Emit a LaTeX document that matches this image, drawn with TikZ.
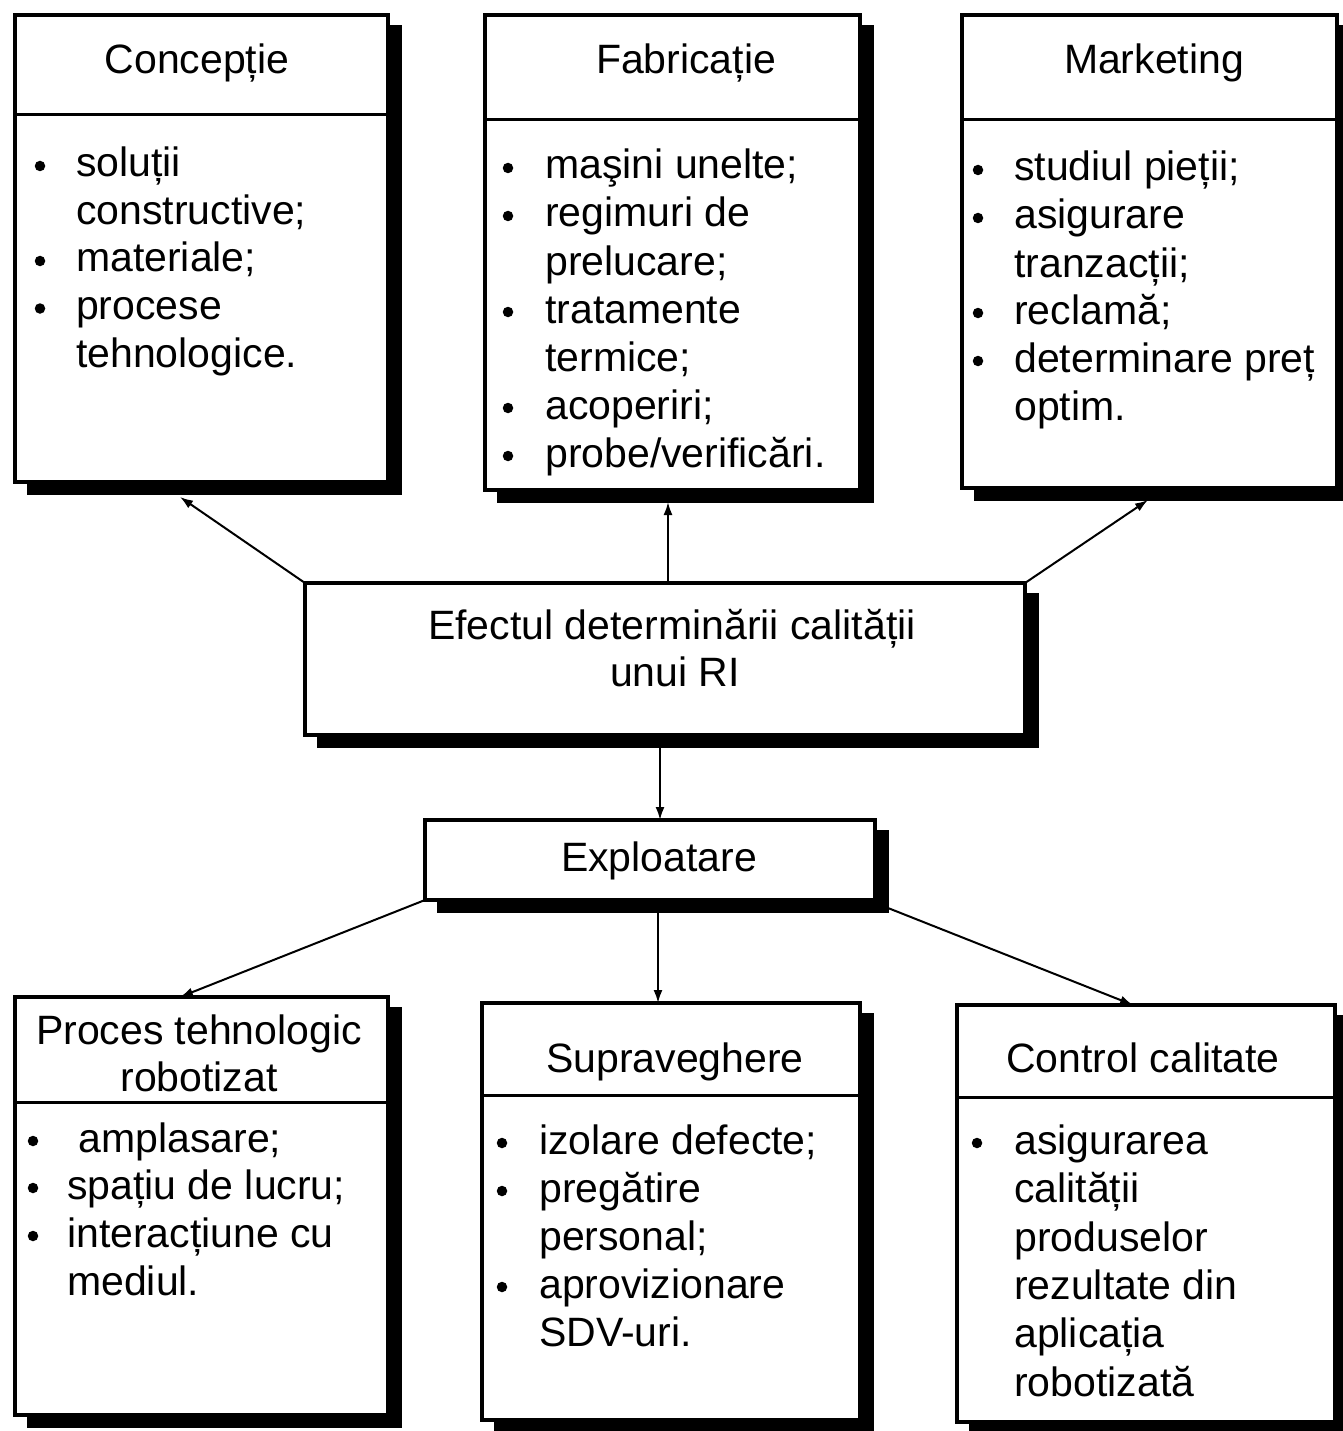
\documentclass[tikz,border=0pt]{standalone}
\usepackage{fontspec}
\setmainfont{Liberation Sans}
\usetikzlibrary{arrows.meta,calc}

\tikzset{
  boxframe/.style={draw, line width=3.2pt, fill=white, rectangle,
    inner sep=0pt, outer sep=0pt, anchor=north west},
  rulew/.style={line width=3pt},
  shade/.style={fill=black},
  conn/.style={line width=2pt, -{Latex[length=13pt,width=9pt]}},
  ln/.style={anchor=base west, inner sep=0pt},
  hd/.style={anchor=base, inner sep=0pt},
  dot/.style={circle, fill=black, inner sep=0pt, minimum size=10.5pt},
}

% shadowed frame: name, x1, y1, x2, y2, divider y (negative = none)
\newcommand\rpanel[6]{%
  \fill[shade] (#2+12,#3+10) rectangle (#4+14,#5+13);
  \node[boxframe, minimum width={#4pt-#2pt}, minimum height={#5pt-#3pt}] (#1) at (#2,#3) {};
  \ifdim #6pt>0pt \draw[rulew] (#2,#6) -- (#4,#6);\fi
}

\begin{document}
\begin{tikzpicture}[x=1pt, y=-1pt,
  every node/.append style={font=\fontsize{41pt}{48pt}\selectfont}]
\fill[white] (0,0) rectangle (1342,1431);
\useasboundingbox (0,0) rectangle (1342,1431);

% ---------- top row ----------
\rpanel{conc}{15}{15}{388}{482}{115}
\node[hd] (concT) at (197,74) {Concepție};
\node[dot] (cb1) at (40,166) {};
\node[ln] (c1) at (76,177) {soluții};
\node[ln] (c2) at (76,224.5) {constructive;};
\node[dot] (cb2) at (40,261) {};
\node[ln] (c3) at (76,272) {materiale;};
\node[dot] (cb3) at (40,308.5) {};
\node[ln] (c4) at (76,319.5) {procese};
\node[ln] (c5) at (76,367) {tehnologice.};

\rpanel{fab}{485}{15}{860}{490}{120}
\node[hd] (fabT) at (686,74) {Fabricație};
\node[dot] (fb1) at (508,168) {};
\node[ln] (f1) at (545,179) {maşini unelte;};
\node[dot] (fb2) at (508,216) {};
\node[ln] (f2) at (545,227) {regimuri de};
\node[ln] (f3) at (545,275) {prelucare;};
\node[dot] (fb3) at (508,312) {};
\node[ln] (f4) at (545,323) {tratamente};
\node[ln] (f5) at (545,371) {termice;};
\node[dot] (fb4) at (508,408) {};
\node[ln] (f6) at (545,419) {acoperiri;};
\node[dot] (fb5) at (508,456) {};
\node[ln] (f7) at (545,467) {probe/verificări.};

\rpanel{mkt}{962}{15}{1337}{488}{120}
\node[hd] (mktT) at (1154,74) {Marketing};
\node[dot] (mb1) at (978,170) {};
\node[ln] (m1) at (1014,181) {studiul pieții;};
\node[dot] (mb2) at (978,218) {};
\node[ln] (m2) at (1014,229) {asigurare};
\node[ln] (m3) at (1014,277) {tranzacții;};
\node[dot] (mb3) at (978,313) {};
\node[ln] (m4) at (1014,324) {reclamă;};
\node[dot] (mb4) at (978,361) {};
\node[ln] (m5) at (1014,372) {determinare preț};
\node[ln] (m6) at (1014,420) {optim.};

% ---------- centre ----------
\rpanel{eff}{305}{583}{1025}{735}{-1}
\node[hd] (effA) at (672,639) {Efectul determinării calității};
\node[hd] (effB) at (675,686) {unui RI};

\rpanel{expl}{425}{820}{875}{900}{-1}
\node[hd] (explT) at (659,871) {Exploatare};

% ---------- bottom row ----------
\rpanel{proc}{15}{997}{388}{1415}{1102}
\node[hd] (procA) at (199,1044) {Proces tehnologic};
\node[hd] (procB) at (199,1091) {robotizat};
\node[dot] (pb1) at (33,1141) {};
\node[ln] (p1) at (67,1152) {\ amplasare;};
\node[dot] (pb2) at (33,1188) {};
\node[ln] (p2) at (67,1199) {spațiu de lucru;};
\node[dot] (pb3) at (33,1236) {};
\node[ln] (p3) at (67,1247) {interacțiune cu};
\node[ln] (p4) at (67,1295) {mediul.};

\rpanel{sup}{482}{1003}{860}{1420}{1095}
\node[hd] (supT) at (675,1072) {Supraveghere};
\node[dot] (sb1) at (502,1143) {};
\node[ln] (s1) at (539,1154) {izolare defecte;};
\node[dot] (sb2) at (502,1191) {};
\node[ln] (s2) at (539,1202) {pregătire};
\node[ln] (s3) at (539,1250) {personal;};
\node[dot] (sb3) at (502,1287) {};
\node[ln] (s4) at (539,1298) {aprovizionare};
\node[ln] (s5) at (539,1346) {SDV-uri.};

\rpanel{ctrl}{957}{1005}{1335}{1422}{1097}
\node[hd] (ctrlT) at (1143,1072) {Control calitate};
\node[dot] (qb1) at (977,1143) {};
\node[ln] (q1) at (1014,1154) {asigurarea};
\node[ln] (q2) at (1014,1202) {calității};
\node[ln] (q3) at (1014,1251) {produselor};
\node[ln] (q4) at (1014,1299) {rezultate din};
\node[ln] (q5) at (1014,1347) {aplicația};
\node[ln] (q6) at (1014,1396) {robotizată};

% ---------- connectors ----------
\draw[conn] (eff.north west) -- ($(conc.south)+(-21.5,15)$);
\draw[conn] ($(eff.north)+(3,0)$) -- ($(fab.south)+(-4.5,12)$);
\draw[conn] (eff.north east) -- ($(mkt.south)+(-1.5,12)$);
\draw[conn] ($(eff.south)+(-5,10)$) -- ($(expl.north)+(10,0)$);
\draw[conn] (expl.south west) -- ($(proc.north)+(-21.5,0)$);
\draw[conn] ($(expl.south)+(8,13)$) -- ($(sup.north)+(-13,0)$);
\draw[conn] ($(expl.south east)+(13,8)$) -- ($(ctrl.north)+(-13,0)$);
\end{tikzpicture}
\end{document}
